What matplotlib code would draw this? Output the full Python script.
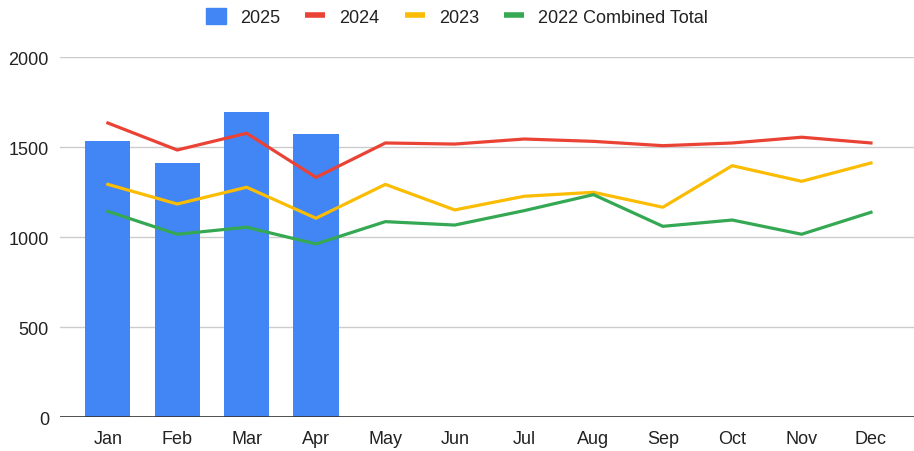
import matplotlib
matplotlib.use("Agg")
import matplotlib.pyplot as plt
from matplotlib.patches import Patch
from matplotlib.lines import Line2D

months = ["Jan", "Feb", "Mar", "Apr", "May", "Jun", "Jul", "Aug", "Sep", "Oct", "Nov", "Dec"]
sales_2025 = [1537, 1413, 1698, 1574]
sales_2024 = [1635, 1485, 1578, 1333, 1524, 1518, 1546, 1533, 1509, 1524, 1556, 1524]
sales_2023 = [1294, 1185, 1278, 1106, 1294, 1152, 1228, 1250, 1167, 1398, 1311, 1413]
sales_2022 = [1144, 1017, 1056, 963, 1087, 1068, 1148, 1237, 1061, 1096, 1017, 1139]
yticks = [0, 500, 1000, 1500, 2000]

plt.rcParams['font.family'] = ['Liberation Sans', 'DejaVu Sans']

BLUE = "#4285F4"
RED = "#EA4335"
YELLOW = "#FBBC04"
GREEN = "#34A853"

fig = plt.figure(figsize=(9.14, 4.52), dpi=100)
ax = fig.add_axes([60/914, 33.7/452, 854/914, 360/452])

x = list(range(len(months)))
ax.bar(x[:len(sales_2025)], sales_2025, width=0.65, color=BLUE, zorder=2)
ax.plot(x, sales_2024, color=RED, lw=2.3, zorder=3, solid_joinstyle='round')
ax.plot(x, sales_2023, color=YELLOW, lw=2.3, zorder=3, solid_joinstyle='round')
ax.plot(x, sales_2022, color=GREEN, lw=2.3, zorder=3, solid_joinstyle='round')

ax.set_ylim(0, 2000)
ax.set_xlim(-0.69, 11.62)
ax.set_yticks(yticks)
ax.set_yticklabels([str(v) for v in yticks])
ax.set_xticks(x)
ax.set_xticklabels(months)
ax.grid(axis='y', color='#cccccc', lw=1, zorder=0)
ax.axhline(0, color='#333333', lw=1.2, zorder=4)
for s in ax.spines.values():
    s.set_visible(False)
ax.tick_params(axis='both', length=0, labelsize=13, colors='#222222')
ax.tick_params(axis='x', pad=9)
ax.tick_params(axis='y', pad=8)

handles = [
    Patch(facecolor=BLUE, edgecolor=BLUE),
    Line2D([0], [0], color=RED, lw=4, solid_capstyle='butt'),
    Line2D([0], [0], color=YELLOW, lw=4, solid_capstyle='butt'),
    Line2D([0], [0], color=GREEN, lw=4, solid_capstyle='butt'),
]
labels = ["2025", "2024", "2023", "2022 Combined Total"]
leg = fig.legend(handles, labels, loc='center', bbox_to_anchor=(0.5, 1 - 18/452),
                 ncol=4, frameon=False, fontsize=13, handlelength=1.1,
                 handleheight=1.0, handletextpad=0.78, columnspacing=1.4)
for t in leg.get_texts():
    t.set_color('#222222')

fig.savefig("out.png", dpi=100)
